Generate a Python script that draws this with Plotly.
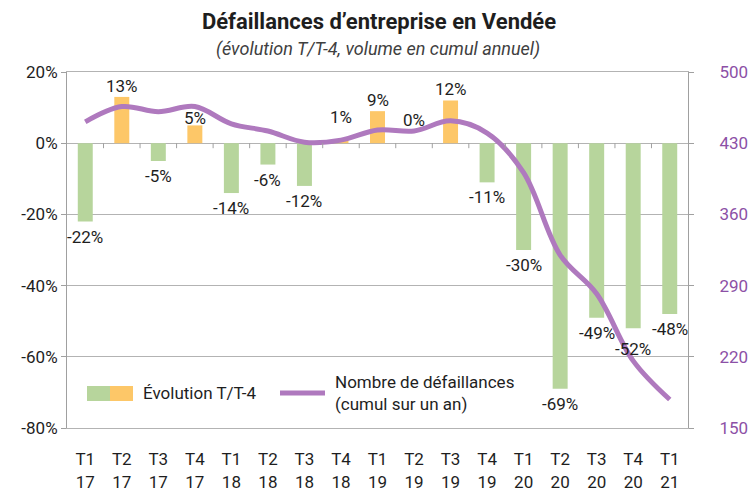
import plotly.graph_objects as go

# ---- data ----
quarters = ["T1", "T2", "T3", "T4", "T1", "T2", "T3", "T4", "T1", "T2", "T3", "T4",
            "T1", "T2", "T3", "T4", "T1"]
years = ["17", "17", "17", "17", "18", "18", "18", "18", "19", "19", "19", "19",
         "20", "20", "20", "20", "21"]
evolution_pct = [-22, 13, -5, 5, -14, -6, -12, 1, 9, 0, 12, -11, -30, -69, -49, -52, -48]
defaillances_cumul = [451, 466, 461, 466, 449, 442, 431, 433, 443, 442, 452, 440,
                      401, 320, 282, 216, 178]
left_ticks = [20, 0, -20, -40, -60, -80]
right_ticks = [500, 430, 360, 290, 220, 150]

title = "Défaillances d’entreprise en Vendée"
subtitle = "(évolution T/T-4, volume en cumul annuel)"
legend_bar = "Évolution T/T-4"
legend_line = "Nombre de défaillances<br>(cumul sur un an)"

categories = [f"{q}<br>{y}" for q, y in zip(quarters, years)]

# ---- style ----
GREEN = "#B7D59C"
ORANGE = "#FDC768"
PURPLE = "#AF79BE"
PURPLE_TXT = "#8C50A6"
GRID = "#B3B3B3"
AXIS = "#A0A0A0"
TXT = "#1E1E1E"
FONT = "Roboto, sans-serif"
FS = 17

# extra label offsets (pixels) for a few labels moved by hand in the original
label_extra = {7: 12, 9: 12, 3: -4, 15: -6}

fig = go.Figure()
fig.add_trace(go.Bar(
    x=categories, y=evolution_pct,
    marker=dict(color=[GREEN if v < 0 else ORANGE for v in evolution_pct], line=dict(width=0)),
    width=0.41, showlegend=False, hoverinfo="skip",
))
fig.add_trace(go.Scatter(
    x=categories, y=defaillances_cumul, yaxis="y2", mode="lines",
    line=dict(color=PURPLE, width=5, shape="spline", smoothing=1),
    showlegend=False, hoverinfo="skip",
))

annotations = []
for i, (c, v) in enumerate(zip(categories, evolution_pct)):
    neg = v < 0
    ys = (-4 if neg else 0) + label_extra.get(i, 0)
    annotations.append(dict(
        x=c, y=v, xref="x", yref="y", text=f"{v}%", showarrow=False,
        yanchor="top" if neg else "bottom", yshift=ys, borderpad=0,
        font=dict(family=FONT, size=FS, color=TXT),
    ))

# subtitle
annotations.append(dict(
    xref="x domain", x=(378 - 67) / 621, yref="paper", y=(428 - 49) / 356,
    text=subtitle, showarrow=False, yanchor="middle",
    font=dict(family=FONT, size=18, color="#404040", style="italic"),
))

# legend (custom)
shapes = []
ly0, ly1 = (428 - 401) / 356, (428 - 386) / 356
lym = (428 - 393) / 356
shapes.append(dict(type="rect", xref="paper", yref="paper", x0=20 / 621, x1=43 / 621,
                   y0=ly0, y1=ly1, fillcolor=GREEN, line=dict(width=0)))
shapes.append(dict(type="rect", xref="paper", yref="paper", x0=43 / 621, x1=66 / 621,
                   y0=ly0, y1=ly1, fillcolor=ORANGE, line=dict(width=0)))
shapes.append(dict(type="line", xref="paper", yref="paper", x0=213 / 621, x1=258 / 621,
                   y0=lym, y1=lym, line=dict(color=PURPLE, width=5)))
annotations.append(dict(x=74 / 621, y=lym, xref="paper", yref="paper", text=legend_bar,
                        showarrow=False, xanchor="left", yanchor="middle",
                        font=dict(family=FONT, size=FS, color=TXT)))
annotations.append(dict(x=266 / 621, y=lym, xref="paper", yref="paper", text=legend_line,
                        showarrow=False, xanchor="left", yanchor="middle", align="left",
                        font=dict(family=FONT, size=FS, color=TXT)))

# category tick marks on the zero line
for k in range(1, len(categories)):
    shapes.append(dict(type="line", xref="x", yref="y", x0=k - 0.5, x1=k - 0.5,
                       ysizemode="pixel", yanchor=0, y0=0, y1=-5,
                       line=dict(color=AXIS, width=1)))

fig.update_layout(
    width=748, height=490,
    margin=dict(l=67, r=60, t=72, b=62, autoexpand=False),
    paper_bgcolor="white", plot_bgcolor="white",
    font=dict(family=FONT, size=FS, color=TXT),
    title=dict(text=f"<b>{title}</b>", x=379 / 748, xanchor="center", xref="container",
               y=1 - 21 / 490, yanchor="middle", yref="container",
               font=dict(family=FONT, size=22, color=TXT)),
    bargap=0.59,
    xaxis=dict(type="category", range=[-0.5, len(categories) - 0.5], automargin=False,
               showgrid=False, showline=True, mirror=True, linecolor=GRID, linewidth=1,
               ticks="", tickfont=dict(size=FS, color=TXT), ticklabelstandoff=16,
               fixedrange=True),
    yaxis=dict(range=[-80, 20], tickvals=left_ticks, ticktext=[f"{v}%" for v in left_ticks],
               automargin=False,
               showgrid=True, gridcolor=GRID, gridwidth=1, zeroline=False,
               showline=True, linecolor=AXIS, ticks="outside", ticklen=5, tickcolor=AXIS,
               tickfont=dict(size=FS, color=TXT)),
    yaxis2=dict(range=[150, 500], tickvals=right_ticks, overlaying="y", side="right",
                automargin=False,
                showgrid=False, zeroline=False, showline=True, linecolor=AXIS,
                ticks="outside", ticklen=5, tickcolor=AXIS, ticklabelstandoff=22,
                tickfont=dict(size=FS, color=PURPLE_TXT)),
    annotations=annotations, shapes=shapes,
)

fig.write_html("out.html")
